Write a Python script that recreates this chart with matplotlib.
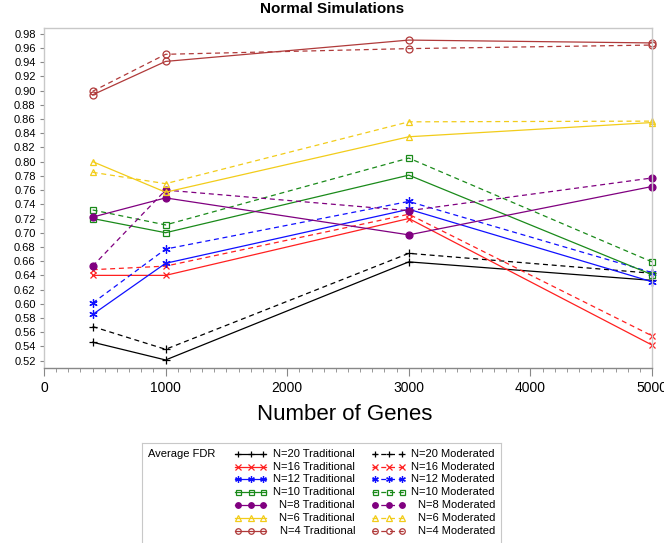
import matplotlib
matplotlib.use("Agg")
import matplotlib.pyplot as plt
from matplotlib.ticker import MultipleLocator, FormatStrFormatter

plt.rcParams['font.family'] = ['Liberation Sans', 'DejaVu Sans']

genes = [400, 1000, 3000, 5000]
labels_n = ["N=20", "N=16", "N=12", "N=10", "N=8", "N=6", "N=4"]

trad_n20 = [0.546, 0.521, 0.659, 0.633]
trad_n16 = [0.640, 0.640, 0.720, 0.542]
trad_n12 = [0.585, 0.657, 0.733, 0.631]
trad_n10 = [0.720, 0.700, 0.781, 0.641]
trad_n8 = [0.722, 0.749, 0.697, 0.765]
trad_n6 = [0.800, 0.757, 0.835, 0.855]
trad_n4 = [0.894, 0.941, 0.971, 0.967]

mod_n20 = [0.568, 0.536, 0.671, 0.643]
mod_n16 = [0.648, 0.653, 0.726, 0.555]
mod_n12 = [0.601, 0.677, 0.744, 0.644]
mod_n10 = [0.732, 0.711, 0.805, 0.659]
mod_n8 = [0.653, 0.760, 0.731, 0.777]
mod_n6 = [0.785, 0.769, 0.856, 0.857]
mod_n4 = [0.899, 0.951, 0.959, 0.964]

traditional = [trad_n20, trad_n16, trad_n12, trad_n10, trad_n8, trad_n6, trad_n4]
moderated = [mod_n20, mod_n16, mod_n12, mod_n10, mod_n8, mod_n6, mod_n4]

colors = ["#000000", "#FF2020", "#1010FF", "#1A8A1A", "#800080", "#F2CC1A", "#B03A3A"]
markers = ["+", "x", (6, 2, 0), "s", "o", "^", "o"]
filled = [True, True, True, False, True, False, False]
msizes = [6, 5, 6, 4.5, 5, 5, 5]

W, H = 664, 543
fig = plt.figure(figsize=(W / 100, H / 100), dpi=100)
ax = fig.add_axes([44 / W, 1 - 368 / H, (652 - 44) / W, (368 - 28) / H])

dash = (0, (4, 3))

def style(i, ls, scale=1.0):
    return dict(color=colors[i], linestyle=ls, linewidth=0.9, marker=markers[i],
                markersize=msizes[i] * scale,
                markerfacecolor=colors[i] if filled[i] else 'none',
                markeredgecolor=colors[i], markeredgewidth=0.9)

for i in range(len(labels_n)):
    ax.plot(genes, traditional[i], **style(i, '-'), clip_on=False)
    ax.plot(genes, moderated[i], **style(i, dash), clip_on=False)

ax.set_xlim(0, 5000)
ax.set_ylim(0.5097, 0.988)
ax.yaxis.set_major_locator(MultipleLocator(0.02))
ax.yaxis.set_major_formatter(FormatStrFormatter('%.2f'))
ax.xaxis.set_major_locator(MultipleLocator(1000))
ax.xaxis.set_minor_locator(MultipleLocator(100))
ax.tick_params(axis='y', labelsize=8, length=3, color='#888888', pad=3)
ax.tick_params(axis='x', which='major', labelsize=10, length=6, color='#888888', pad=3)
ax.tick_params(axis='x', which='minor', length=3, color='#888888')
for s in ax.spines.values():
    s.set_color('#c8c8c8')
    s.set_linewidth(1.0)
ax.spines['bottom'].set_color('#888888')

fig.text(332 / W, 1 - 9 / H, "Normal Simulations", ha='center', va='center',
         fontsize=11, fontweight='bold')
fig.text(345 / W, 1 - 414 / H, "Number of Genes", ha='center', va='center', fontsize=16)
fig.text(4 / W, 1 - 204 / H, "FDR", rotation=90, ha='right', va='center', fontsize=16)

# legend box
lx0, lx1, ly0 = 142, 501, 443
lax = fig.add_axes([lx0 / W, 0, (lx1 - lx0) / W, (H - ly0) / H])
lax.set_xlim(0, lx1 - lx0)
lax.set_ylim(H - ly0, 0)
lax.set_xticks([])
lax.set_yticks([])
for k in ['left', 'top', 'right']:
    lax.spines[k].set_color('#c8c8c8')
lax.spines['bottom'].set_visible(False)
lax.patch.set_alpha(0)
lax.text(6, 11, "Average FDR", ha='left', va='center', fontsize=8)
row_y = [11, 23.5, 36, 49, 62, 75, 88]
for i, n in enumerate(labels_n):
    y = row_y[i]
    for (hx0, hx1, tx, ls, kind) in [(93, 124, 213, '-', 'Traditional'),
                                     (230, 263, 353, dash, 'Moderated')]:
        lax.plot([hx0, hx1], [y, y], color=colors[i], linestyle=ls, linewidth=0.9)
        lax.plot([hx0 + 3, (hx0 + hx1) / 2, hx1 - 3], [y, y, y], **style(i, 'none', 0.8))
        lax.text(tx, y, f"{n} {kind}", ha='right', va='center', fontsize=8)

fig.savefig("out.png", dpi=100)
